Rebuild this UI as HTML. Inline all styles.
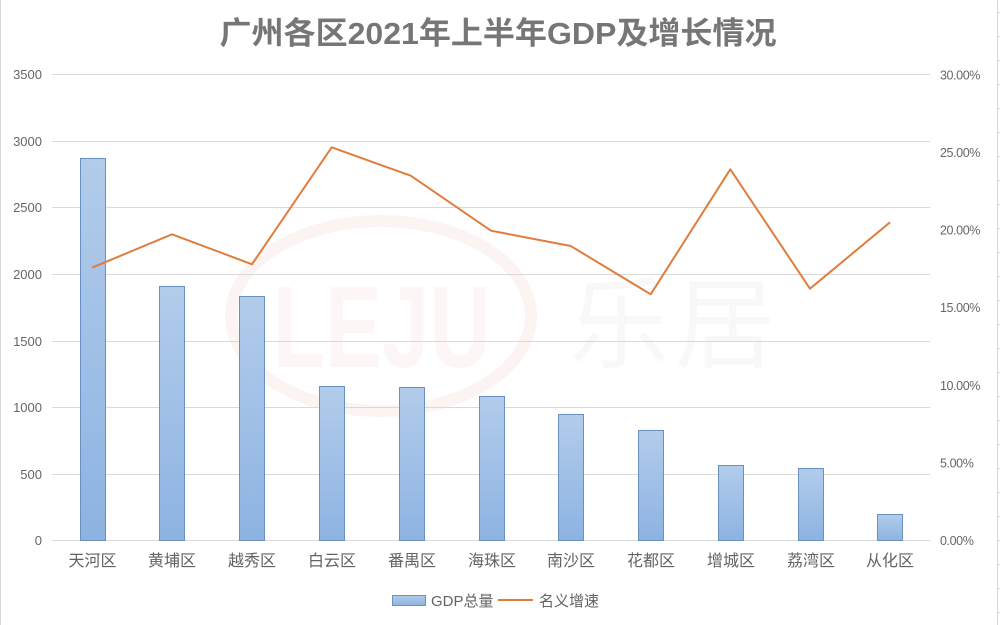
<!DOCTYPE html>
<html>
<head>
<meta charset="utf-8">
<style>
  html,body{margin:0;padding:0;background:#fff;}
  svg{display:block;}
  text{font-family:"Liberation Sans","Noto Sans CJK SC",sans-serif;}
</style>
</head>
<body>
<svg width="1000" height="625" viewBox="0 0 1000 625" xmlns="http://www.w3.org/2000/svg">
  <defs>
    <linearGradient id="bg" x1="0" y1="0" x2="0" y2="1">
      <stop offset="0" stop-color="#b2cceb"/>
      <stop offset="1" stop-color="#8db3e2"/>
    </linearGradient>
  </defs>
  <rect x="0" y="0" width="1000" height="625" fill="#ffffff"/>
  <!-- borders -->
  <line x1="0.5" y1="0" x2="0.5" y2="625" stroke="#d6d6d6" stroke-width="1"/>
  <line x1="997.5" y1="0" x2="997.5" y2="625" stroke="#d6d6d6" stroke-width="1"/>
  <g stroke="#dcdcdc" stroke-width="1">
    <line x1="997" y1="12.5" x2="1000" y2="12.5"/><line x1="997" y1="36.5" x2="1000" y2="36.5"/>
    <line x1="997" y1="60.5" x2="1000" y2="60.5"/><line x1="997" y1="84.5" x2="1000" y2="84.5"/>
    <line x1="997" y1="108.5" x2="1000" y2="108.5"/><line x1="997" y1="132.5" x2="1000" y2="132.5"/>
    <line x1="997" y1="156.5" x2="1000" y2="156.5"/><line x1="997" y1="180.5" x2="1000" y2="180.5"/>
    <line x1="997" y1="204.5" x2="1000" y2="204.5"/><line x1="997" y1="228.5" x2="1000" y2="228.5"/>
    <line x1="997" y1="252.5" x2="1000" y2="252.5"/><line x1="997" y1="276.5" x2="1000" y2="276.5"/>
    <line x1="997" y1="300.5" x2="1000" y2="300.5"/><line x1="997" y1="324.5" x2="1000" y2="324.5"/>
    <line x1="997" y1="348.5" x2="1000" y2="348.5"/><line x1="997" y1="372.5" x2="1000" y2="372.5"/>
    <line x1="997" y1="396.5" x2="1000" y2="396.5"/><line x1="997" y1="420.5" x2="1000" y2="420.5"/>
    <line x1="997" y1="444.5" x2="1000" y2="444.5"/><line x1="997" y1="468.5" x2="1000" y2="468.5"/>
    <line x1="997" y1="492.5" x2="1000" y2="492.5"/><line x1="997" y1="516.5" x2="1000" y2="516.5"/>
    <line x1="997" y1="540.5" x2="1000" y2="540.5"/><line x1="997" y1="564.5" x2="1000" y2="564.5"/>
    <line x1="997" y1="588.5" x2="1000" y2="588.5"/><line x1="997" y1="612.5" x2="1000" y2="612.5"/>
  </g>

  <!-- watermark -->
  <ellipse cx="381" cy="316" rx="150" ry="95" fill="none" stroke="#fcf3f3" stroke-width="12"/>
  <text x="382" y="367" text-anchor="middle" font-size="116" font-weight="bold" fill="#fdf6f6" textLength="218" lengthAdjust="spacingAndGlyphs">LEJU</text>
  <text x="675" y="360" text-anchor="middle" font-size="100" fill="#f8f8f8" style="font-family:'Noto Sans CJK SC',sans-serif" letter-spacing="6">乐居</text>

  <!-- title -->
  <text x="498" y="44" text-anchor="middle" font-size="31" font-weight="bold" fill="#767676" textLength="557" lengthAdjust="spacingAndGlyphs">广州各区2021年上半年GDP及增长情况</text>

  <!-- gridlines -->
  <g stroke="#d9d9d9" stroke-width="1">
    <line x1="52" y1="74.5" x2="930" y2="74.5"/>
    <line x1="52" y1="141.5" x2="930" y2="141.5"/>
    <line x1="52" y1="207.5" x2="930" y2="207.5"/>
    <line x1="52" y1="274.5" x2="930" y2="274.5"/>
    <line x1="52" y1="341.5" x2="930" y2="341.5"/>
    <line x1="52" y1="407.5" x2="930" y2="407.5"/>
    <line x1="52" y1="474.5" x2="930" y2="474.5"/>
    <line x1="52" y1="540.5" x2="930" y2="540.5"/>
  </g>

  <!-- left axis labels -->
  <g font-size="13" fill="#666" text-anchor="end">
    <text x="42" y="79">3500</text>
    <text x="42" y="146">3000</text>
    <text x="42" y="212">2500</text>
    <text x="42" y="279">2000</text>
    <text x="42" y="346">1500</text>
    <text x="42" y="412">1000</text>
    <text x="42" y="479">500</text>
    <text x="42" y="545">0</text>
  </g>

  <!-- right axis labels -->
  <g font-size="12.5" fill="#666" letter-spacing="-0.4">
    <text x="940" y="79.5">30.00%</text>
    <text x="940" y="157">25.00%</text>
    <text x="940" y="234.5">20.00%</text>
    <text x="940" y="312">15.00%</text>
    <text x="940" y="390">10.00%</text>
    <text x="940" y="467.5">5.00%</text>
    <text x="940" y="545">0.00%</text>
  </g>

  <!-- bars -->
  <g fill="url(#bg)" stroke="#6990c1" stroke-width="1">
    <rect x="80.5" y="158.5" width="25" height="382"/>
    <rect x="159.5" y="286.5" width="25" height="254"/>
    <rect x="239.5" y="296.5" width="25" height="244"/>
    <rect x="319.5" y="386.5" width="25" height="154"/>
    <rect x="399.5" y="387.5" width="25" height="153"/>
    <rect x="479.5" y="396.5" width="25" height="144"/>
    <rect x="558.5" y="414.5" width="25" height="126"/>
    <rect x="638.5" y="430.5" width="25" height="110"/>
    <rect x="718.5" y="465.5" width="25" height="75"/>
    <rect x="798.5" y="468.5" width="25" height="72"/>
    <rect x="877.5" y="514.5" width="25" height="26"/>
  </g>

  <!-- line -->
  <polyline fill="none" stroke="#e07d3c" stroke-width="2" stroke-linejoin="round"
    points="92,267.7 172,234.3 252,264.3 331.7,147.3 410.7,175.7 491,230.7 570.7,246 650.7,294.3 730.3,169.3 810,288.7 890,222.3"/>

  <!-- category labels -->
  <g font-size="16" fill="#636363" text-anchor="middle" style="font-family:'Noto Sans CJK SC',sans-serif">
    <text x="92.5" y="566">天河区</text>
    <text x="172" y="566">黄埔区</text>
    <text x="252" y="566">越秀区</text>
    <text x="332" y="566">白云区</text>
    <text x="412" y="566">番禺区</text>
    <text x="492" y="566">海珠区</text>
    <text x="571" y="566">南沙区</text>
    <text x="651" y="566">花都区</text>
    <text x="731" y="566">增城区</text>
    <text x="811" y="566">荔湾区</text>
    <text x="890" y="566">从化区</text>
  </g>

  <!-- legend -->
  <rect x="392.5" y="595.5" width="33" height="10" fill="url(#bg)" stroke="#6990c1" stroke-width="1"/>
  <text x="431" y="606" font-size="15" fill="#636363">GDP总量</text>
  <line x1="498" y1="600" x2="533" y2="600" stroke="#e07d3c" stroke-width="2"/>
  <text x="539" y="606" font-size="15" fill="#636363" style="font-family:'Noto Sans CJK SC',sans-serif">名义增速</text>
</svg>
</body>
</html>
